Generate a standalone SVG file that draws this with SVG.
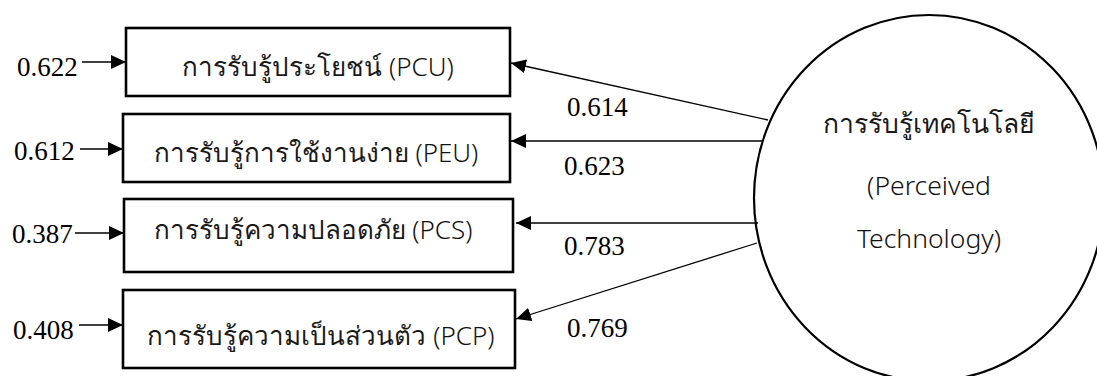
<svg xmlns="http://www.w3.org/2000/svg" width="1097" height="376" viewBox="0 0 1097 376">
  <style>
    .box { fill: #fff; stroke: #000; stroke-width: 2.6; }
    .latent { fill: #fff; stroke: #000; stroke-width: 2.2; }
    .label { font-family: "Noto Sans", "DejaVu Sans", sans-serif; font-size: 26px; font-weight: 400; fill: #1a1a1a; text-anchor: middle; }
    .lat { font-weight: 300; fill: #111; }
    .big { font-size: 26.5px; }
    .num { font-family: "Liberation Serif", serif; font-size: 27px; fill: #000; }
    .edge { stroke: #000; stroke-width: 1.3; fill: none; marker-end: url(#head); }
  </style>
  <defs>
    <marker id="head" markerUnits="userSpaceOnUse" markerWidth="15" markerHeight="14" refX="15" refY="7" orient="auto">
      <path d="M0,0 L15,7 L0,14 z" fill="#000"/>
    </marker>
  </defs>
  <rect width="1097" height="376" fill="#fff"/>

  <!-- latent construct -->
  <g id="node-pt">
    <ellipse class="latent" cx="929" cy="198" rx="175" ry="183"/>
    <text class="label big" x="929" y="133">การรับรู้เทคโนโลยี</text>
    <text class="label big lat" x="929" y="195">(Perceived</text>
    <text class="label big lat" x="929" y="248">Technology)</text>
  </g>

  <!-- observed indicators -->
  <g id="node-pcu">
    <rect class="box" x="126" y="28" width="384" height="68"/>
    <text class="label" x="318" y="76">การรับรู้ประโยชน์ <tspan class="lat">(PCU)</tspan></text>
  </g>
  <g id="node-peu">
    <rect class="box" x="123" y="114" width="387" height="68"/>
    <text class="label" x="316" y="162">การรับรู้การใช้งานง่าย <tspan class="lat">(PEU)</tspan></text>
  </g>
  <g id="node-pcs">
    <rect class="box" x="124" y="199" width="389" height="73"/>
    <text class="label" x="313" y="239">การรับรู้ความปลอดภัย <tspan class="lat">(PCS)</tspan></text>
  </g>
  <g id="node-pcp">
    <rect class="box" x="123" y="290" width="392" height="78"/>
    <text class="label" x="321" y="345">การรับรู้ความเป็นส่วนตัว <tspan class="lat">(PCP)</tspan></text>
  </g>

  <!-- error terms and loadings -->
  <g id="connectors">
    <line class="edge" x1="82" y1="62" x2="126" y2="62"/>
    <line class="edge" x1="80" y1="149" x2="123" y2="149"/>
    <line class="edge" x1="75" y1="233" x2="124" y2="233"/>
    <line class="edge" x1="79" y1="325" x2="123" y2="325"/>

    <line class="edge" x1="768" y1="120" x2="511" y2="63"/>
    <line class="edge" x1="762" y1="141" x2="511" y2="141"/>
    <line class="edge" x1="758" y1="223" x2="516" y2="223"/>
    <line class="edge" x1="757" y1="243" x2="516" y2="319"/>

    <text class="num" x="17" y="76">0.622</text>
    <text class="num" x="14" y="160">0.612</text>
    <text class="num" x="12" y="243">0.387</text>
    <text class="num" x="13" y="339">0.408</text>

    <text class="num" x="567" y="116">0.614</text>
    <text class="num" x="564" y="175">0.623</text>
    <text class="num" x="564" y="255">0.783</text>
    <text class="num" x="567" y="337">0.769</text>
  </g>
</svg>
